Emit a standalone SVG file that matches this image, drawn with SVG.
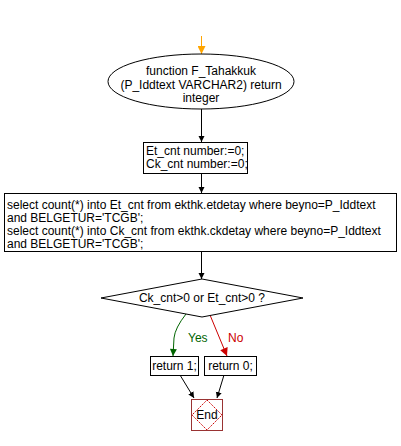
<svg xmlns="http://www.w3.org/2000/svg" width="401" height="446" viewBox="0 0 401 446">
<defs>
<style>
.t{font-family:"Liberation Sans",Arial,sans-serif;font-size:12px;fill:#000}
.box{fill:#fff;stroke:#000;stroke-width:1}
.ln{fill:none;stroke:#000;stroke-width:1}
</style>
<marker id="ab" viewBox="0 0 10 10" refX="10" refY="5" markerWidth="6" markerHeight="10" markerUnits="userSpaceOnUse" orient="auto"><path d="M0,0 L10,5 L0,10 z" fill="#000"/></marker>
<marker id="ao" viewBox="0 0 10 10" refX="10" refY="5" markerWidth="12" markerHeight="8" markerUnits="userSpaceOnUse" orient="auto"><path d="M0,0 L10,5 L0,10 z" fill="#FFA500"/></marker>
<marker id="ag" viewBox="0 0 10 10" refX="10" refY="5" markerWidth="12" markerHeight="7" markerUnits="userSpaceOnUse" orient="auto"><path d="M0,0 L10,5 L0,10 z" fill="#006400"/></marker>
<marker id="ar" viewBox="0 0 10 10" refX="10" refY="5" markerWidth="12" markerHeight="8" markerUnits="userSpaceOnUse" orient="auto"><path d="M0,0 L10,5 L0,10 z" fill="#CC0000"/></marker>
</defs>
<rect width="401" height="446" fill="#fff"/>
<g id="connectors">
<line x1="201.5" y1="36" x2="201.5" y2="54" stroke="#FFA500" stroke-width="1" marker-end="url(#ao)"/>
<line class="ln" x1="201.5" y1="109" x2="201.5" y2="142" marker-end="url(#ab)"/>
<line class="ln" x1="201.5" y1="173" x2="201.5" y2="193" marker-end="url(#ab)"/>
<line class="ln" x1="201.5" y1="252" x2="201.5" y2="279" marker-end="url(#ab)"/>
<path d="M186,314 Q175,328 174,338 L173,356" fill="none" stroke="#006400" stroke-width="1" marker-end="url(#ag)"/>
<text class="t" x="188" y="342" style="fill:#006400">Yes</text>
<path d="M210,315 L227,356" fill="none" stroke="#CC0000" stroke-width="1" marker-end="url(#ar)"/>
<text class="t" x="228" y="342" style="fill:#CC0000">No</text>
<line class="ln" x1="180" y1="375" x2="194" y2="398" marker-end="url(#ab)"/>
<line class="ln" x1="224" y1="375" x2="217" y2="398" marker-end="url(#ab)"/>
</g>
<g id="start">
<ellipse cx="201" cy="81.5" rx="93" ry="27.5" class="box"/>
<text class="t" x="201" y="75" text-anchor="middle">function F_Tahakkuk</text>
<text class="t" x="201" y="88.5" text-anchor="middle">(P_Iddtext VARCHAR2) return</text>
<text class="t" x="201" y="102" text-anchor="middle">integer</text>
</g>
<g id="decl">
<rect x="143.5" y="142.5" width="104" height="31" class="box"/>
<text class="t" x="146" y="155">Et_cnt number:=0;</text>
<text class="t" x="146" y="168">Ck_cnt number:=0;</text>
</g>
<g id="select">
<rect x="4.5" y="193.5" width="392" height="58" class="box"/>
<text class="t" x="7" y="209">select count(*) into Et_cnt from ekthk.etdetay where beyno=P_Iddtext</text>
<text class="t" x="7" y="222">and BELGETUR='TCGB';</text>
<text class="t" x="7" y="235">select count(*) into Ck_cnt  from ekthk.ckdetay where beyno=P_Iddtext</text>
<text class="t" x="7" y="248">and BELGETUR='TCGB';</text>
</g>
<g id="cond">
<polygon points="202,279 303,298 202,317 101,298" class="box"/>
<text class="t" x="202" y="302" text-anchor="middle">Ck_cnt&gt;0 or Et_cnt&gt;0 ?</text>
</g>
<g id="ret1">
<rect x="150.5" y="356.5" width="48" height="19" class="box"/>
<text class="t" x="174.5" y="370" text-anchor="middle">return 1;</text>
</g>
<g id="ret0">
<rect x="204.5" y="356.5" width="52" height="19" class="box"/>
<text class="t" x="230.5" y="370" text-anchor="middle">return 0;</text>
</g>
<g id="end">
<rect x="191.5" y="399.5" width="31" height="31" fill="#fff" stroke="#993333" stroke-width="1"/>
<polygon points="207,400 222,415 207,430 192,415" fill="none" stroke="#CC0000" stroke-width="1" stroke-dasharray="1.5,1"/>
<text class="t" x="207" y="419" text-anchor="middle">End</text>
</g>
</svg>
